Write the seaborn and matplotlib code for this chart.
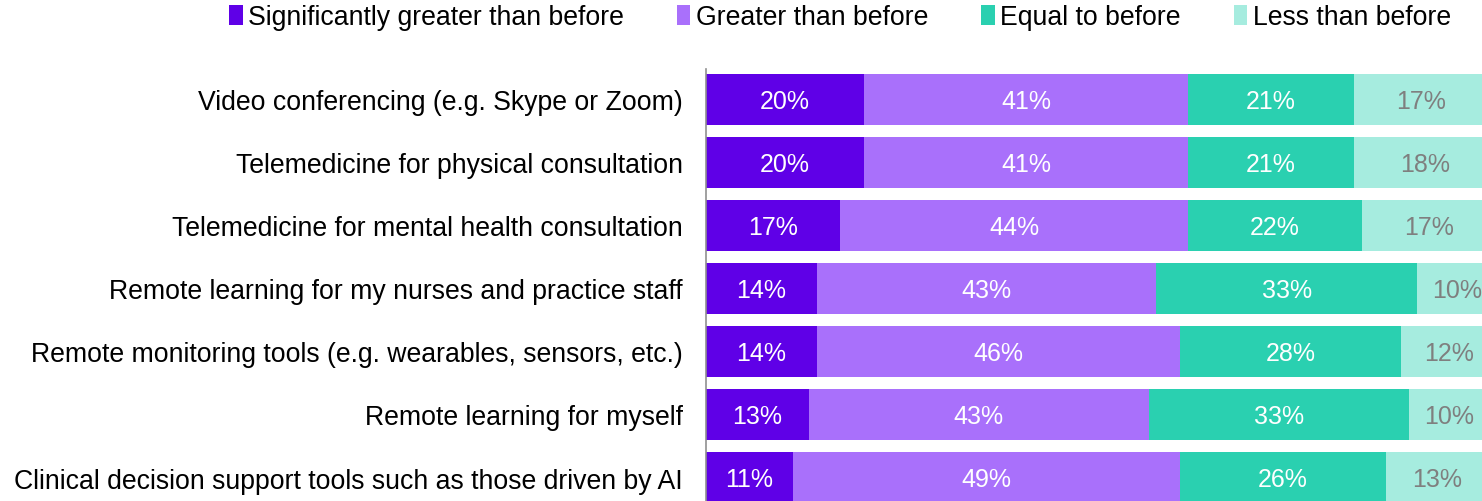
import matplotlib
matplotlib.use("Agg")
import matplotlib.pyplot as plt
import seaborn as sns
import numpy as np
import pandas as pd
from matplotlib.patches import Patch

categories = [
    "Video conferencing (e.g. Skype or Zoom)",
    "Telemedicine for physical consultation",
    "Telemedicine for mental health consultation",
    "Remote learning for my nurses and practice staff",
    "Remote monitoring tools (e.g. wearables, sensors, etc.)",
    "Remote learning for myself",
    "Clinical decision support tools such as those driven by AI",
]
series_names = [
    "Significantly greater than before",
    "Greater than before",
    "Equal to before",
    "Less than before",
]
sig_greater = [20, 20, 17, 14, 14, 13, 11]
greater = [41, 41, 44, 43, 46, 43, 49]
equal = [21, 21, 22, 33, 28, 33, 26]
less = [17, 18, 17, 10, 12, 10, 13]

colors = ["#5f00e7", "#a970fb", "#2ad0b0", "#a6ecdf"]
label_colors = ["white", "white", "white", "#7f7f7f"]

sns.set_style("white")
plt.rcParams["font.family"] = ["Liberation Sans", "DejaVu Sans"]

fig = plt.figure(figsize=(14.82, 5.02), dpi=100)
ax = fig.add_axes([706 / 1482, 0.0, 1 - 706 / 1482, 1 - 70 / 502])

values = np.array([sig_greater, greater, equal, less], dtype=float)
cum = values.cumsum(axis=0)

# stacked bars: draw the longest cumulative bar first, then overlay shorter ones
for i in range(len(series_names) - 1, -1, -1):
    df = pd.DataFrame({"cat": categories, "val": cum[i]})
    sns.barplot(data=df, x="val", y="cat", orient="h", color=colors[i],
                width=0.81, linewidth=0, saturation=1, ax=ax)

for i in range(len(series_names)):
    starts = cum[i] - values[i]
    for j, v in enumerate(values[i]):
        ax.text(starts[j] + v / 2, j + 0.03, f"{int(v)}%", ha="center", va="center",
                color=label_colors[i], fontsize=18)

ax.set_xlim(0, 98.2)
ax.set_ylim(6.373, -0.484)
ax.set_xlabel("")
ax.set_ylabel("")
ax.set_xticks([])
ax.tick_params(axis="y", length=0, pad=16.5, labelsize=19.2, labelcolor="black")
for s in ["top", "right", "bottom"]:
    ax.spines[s].set_visible(False)
ax.spines["left"].set_color("#909090")
ax.spines["left"].set_linewidth(1.2)

handles = [Patch(facecolor=c, edgecolor="none") for c in colors]
fig.legend(handles, series_names, loc="center", bbox_to_anchor=(840 / 1482, 1 - 18 / 502),
           ncol=4, frameon=False, fontsize=19.2, handlelength=0.5, handleheight=0.8,
           handletextpad=0.2, columnspacing=2.0, borderaxespad=0, labelcolor="black")

fig.savefig("out.png", dpi=100)
